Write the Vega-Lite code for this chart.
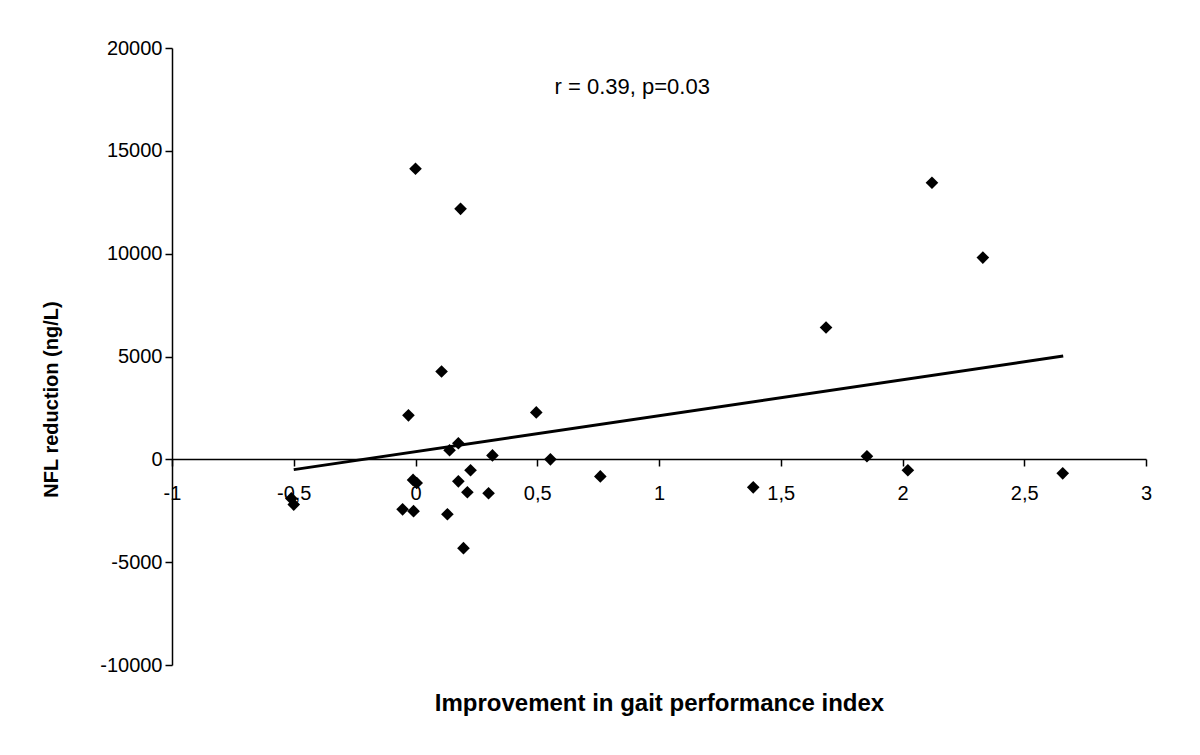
{
  "$schema": "https://vega.github.io/schema/vega-lite/v6.json",
  "width": 974,
  "height": 617,
  "autosize": {"type": "none"},
  "padding": {"left": 172, "top": 48, "right": 54, "bottom": 90},
  "background": "white",
  "config": {
    "view": {"stroke": null},
    "font": "Liberation Sans",
    "axis": {
      "grid": false,
      "domainColor": "black",
      "domainWidth": 1.5,
      "tickColor": "black",
      "tickWidth": 1.5,
      "tickSize": 7,
      "labelColor": "black",
      "labelFont": "Liberation Sans",
      "labelFontSize": 20,
      "titleColor": "black",
      "titleFont": "Liberation Sans",
      "titleFontWeight": "bold"
    }
  },
  "layer": [
    {
      "data": {
        "values": [
          {"gait": 0.0, "nfl": 14130},
          {"gait": 0.185, "nfl": 12180},
          {"gait": 2.121, "nfl": 13450},
          {"gait": 2.33, "nfl": 9810},
          {"gait": 1.686, "nfl": 6410},
          {"gait": 0.107, "nfl": 4270},
          {"gait": -0.029, "nfl": 2140},
          {"gait": 0.496, "nfl": 2280},
          {"gait": 0.176, "nfl": 780},
          {"gait": 0.14, "nfl": 440},
          {"gait": 0.316, "nfl": 190},
          {"gait": 0.554, "nfl": 0},
          {"gait": 1.854, "nfl": 150},
          {"gait": 2.022, "nfl": -530},
          {"gait": 2.658, "nfl": -680},
          {"gait": 0.759, "nfl": -830},
          {"gait": 1.387, "nfl": -1360},
          {"gait": 0.226, "nfl": -530},
          {"gait": 0.176, "nfl": -1070},
          {"gait": -0.01, "nfl": -1000},
          {"gait": 0.005, "nfl": -1150},
          {"gait": 0.213, "nfl": -1600},
          {"gait": 0.3, "nfl": -1650},
          {"gait": -0.053, "nfl": -2430},
          {"gait": -0.008, "nfl": -2520},
          {"gait": 0.131, "nfl": -2670},
          {"gait": 0.197, "nfl": -4320},
          {"gait": -0.51, "nfl": -1900},
          {"gait": -0.5, "nfl": -2200}
        ]
      },
      "mark": {"type": "point", "shape": "diamond", "filled": true, "size": 160, "color": "black", "opacity": 1},
      "encoding": {
        "x": {
          "field": "gait",
          "type": "quantitative",
          "scale": {"domain": [-1, 3], "nice": false, "zero": false},
          "axis": {
            "title": "Improvement in gait performance index",
            "values": [-1, -0.5, 0, 0.5, 1, 1.5, 2, 2.5, 3],
            "labelExpr": "replace(replace(format(datum.value, '~g'), '.', ','), '\u2212', '-')",
            "offset": -206,
            "labelPadding": 17,
            "labelFlush": false,
            "labelOverlap": false,
            "titleFontSize": 24,
            "titleY": 244,
            "titleBaseline": "middle"
          }
        },
        "y": {
          "field": "nfl",
          "type": "quantitative",
          "scale": {"domain": [-10000, 20000], "nice": false, "zero": false},
          "axis": {
            "title": "NFL reduction (ng/L)",
            "values": [-10000, -5000, 0, 5000, 10000, 15000, 20000],
            "labelExpr": "replace(format(datum.value, 'd'), '\u2212', '-')",
            "labelPadding": 3,
            "labelFlush": false,
            "labelOverlap": false,
            "titleFontSize": 20,
            "titleX": -121,
            "titleY": 351,
            "titleAngle": -90,
            "titleAlign": "center",
            "titleBaseline": "middle"
          }
        }
      }
    },
    {
      "data": {"values": [{"gait": -0.5, "nfl": -500}, {"gait": 2.66, "nfl": 5020}]},
      "mark": {"type": "line", "color": "black", "strokeWidth": 3},
      "encoding": {
        "x": {"field": "gait", "type": "quantitative"},
        "y": {"field": "nfl", "type": "quantitative"}
      }
    },
    {
      "data": {"values": [{"label": "r = 0.39, p=0.03", "gait": 0.89, "nfl": 18100}]},
      "mark": {"type": "text", "fontSize": 22, "font": "Liberation Sans", "color": "black"},
      "encoding": {
        "x": {"field": "gait", "type": "quantitative"},
        "y": {"field": "nfl", "type": "quantitative"},
        "text": {"field": "label"}
      }
    }
  ]
}
